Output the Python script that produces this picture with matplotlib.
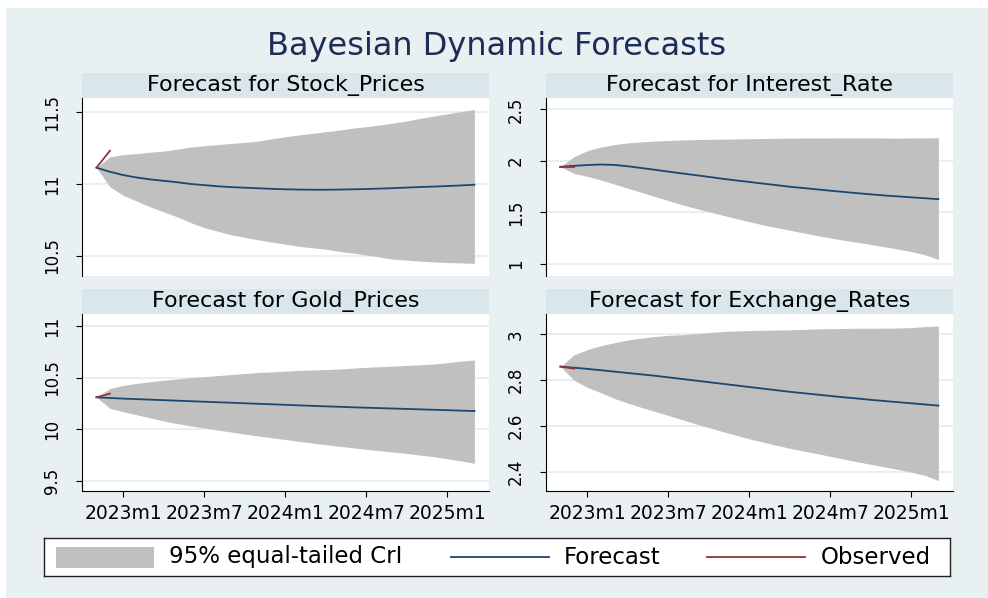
import numpy as np
import pandas as pd
import matplotlib
matplotlib.use('Agg')
from matplotlib import pyplot as plt
from matplotlib.patches import Rectangle
from matplotlib.lines import Line2D
from matplotlib.ticker import FuncFormatter

plt.rcParams['font.family'] = ['DejaVu Sans']

# monthly periods of the forecast horizon (2022m11 .. 2025m3)
periods = pd.period_range('2022-11', '2025-03', freq='M')
obs_periods = pd.period_range('2022-11', '2022-12', freq='M')
tick_labels = ['2023m1', '2023m7', '2024m1', '2024m7', '2025m1']

# Stock_Prices
stock_fc = [11.114, 11.085, 11.062, 11.045, 11.032, 11.022, 11.012, 11.000, 10.992, 10.984,
            10.978, 10.974, 10.970, 10.966, 10.963, 10.961, 10.960, 10.960, 10.961, 10.963,
            10.965, 10.968, 10.971, 10.975, 10.979, 10.982, 10.986, 10.990, 10.995]
stock_lo = [11.114, 10.980, 10.920, 10.880, 10.840, 10.805, 10.770, 10.730, 10.695, 10.670,
            10.645, 10.627, 10.610, 10.595, 10.580, 10.565, 10.555, 10.545, 10.530, 10.518,
            10.505, 10.490, 10.475, 10.468, 10.462, 10.456, 10.452, 10.449, 10.446]
stock_hi = [11.114, 11.190, 11.205, 11.212, 11.222, 11.230, 11.243, 11.258, 11.267, 11.275,
            11.283, 11.290, 11.300, 11.315, 11.330, 11.342, 11.353, 11.365, 11.376, 11.390,
            11.400, 11.412, 11.425, 11.440, 11.458, 11.474, 11.490, 11.505, 11.520]
stock_obs = [11.114, 11.232]

# Interest_Rate
rate_fc = [1.943, 1.952, 1.960, 1.965, 1.961, 1.948, 1.931, 1.914, 1.896, 1.879,
           1.862, 1.845, 1.827, 1.811, 1.796, 1.780, 1.765, 1.749, 1.737, 1.724,
           1.711, 1.699, 1.687, 1.676, 1.665, 1.656, 1.647, 1.638, 1.629]
rate_lo = [1.943, 1.878, 1.850, 1.815, 1.775, 1.735, 1.695, 1.655, 1.615, 1.575,
           1.540, 1.507, 1.474, 1.442, 1.410, 1.380, 1.354, 1.328, 1.302, 1.276,
           1.253, 1.230, 1.210, 1.190, 1.167, 1.145, 1.120, 1.090, 1.045]
rate_hi = [1.943, 2.040, 2.100, 2.135, 2.158, 2.175, 2.185, 2.192, 2.198, 2.203,
           2.207, 2.209, 2.211, 2.213, 2.215, 2.217, 2.219, 2.221, 2.222, 2.222,
           2.222, 2.223, 2.222, 2.223, 2.222, 2.221, 2.222, 2.223, 2.225]
rate_obs = [1.944, 1.944]

# Gold_Prices
gold_fc = [10.310, 10.303, 10.297, 10.292, 10.287, 10.282, 10.277, 10.272, 10.267, 10.262,
           10.257, 10.252, 10.247, 10.242, 10.237, 10.232, 10.227, 10.222, 10.218, 10.213,
           10.209, 10.205, 10.201, 10.197, 10.193, 10.189, 10.185, 10.181, 10.177]
gold_lo = [10.310, 10.203, 10.170, 10.140, 10.110, 10.080, 10.055, 10.032, 10.013, 9.993,
           9.973, 9.953, 9.935, 9.918, 9.901, 9.883, 9.867, 9.851, 9.836, 9.821,
           9.806, 9.793, 9.780, 9.766, 9.750, 9.735, 9.715, 9.694, 9.671]
gold_hi = [10.310, 10.395, 10.425, 10.445, 10.460, 10.475, 10.488, 10.500, 10.510, 10.520,
           10.530, 10.540, 10.550, 10.556, 10.563, 10.570, 10.574, 10.578, 10.584, 10.592,
           10.600, 10.606, 10.612, 10.618, 10.625, 10.632, 10.645, 10.660, 10.671]
gold_obs = [10.310, 10.345]

# Exchange_Rates
fx_fc = [2.859, 2.854, 2.849, 2.843, 2.837, 2.831, 2.825, 2.819, 2.812, 2.805,
         2.798, 2.791, 2.784, 2.777, 2.770, 2.763, 2.756, 2.749, 2.743, 2.737,
         2.731, 2.725, 2.720, 2.714, 2.709, 2.704, 2.699, 2.694, 2.689]
fx_lo = [2.859, 2.800, 2.768, 2.745, 2.720, 2.700, 2.681, 2.664, 2.646, 2.628,
         2.610, 2.593, 2.576, 2.560, 2.544, 2.530, 2.516, 2.503, 2.491, 2.480,
         2.468, 2.456, 2.444, 2.433, 2.422, 2.411, 2.399, 2.385, 2.362]
fx_hi = [2.859, 2.910, 2.933, 2.950, 2.963, 2.975, 2.983, 2.990, 2.995, 2.998,
         3.002, 3.007, 3.012, 3.014, 3.016, 3.017, 3.018, 3.019, 3.021, 3.023,
         3.024, 3.025, 3.026, 3.026, 3.026, 3.027, 3.029, 3.033, 3.036]
fx_obs = [2.859, 2.850]

CI_COLOR = '#c0c0c0'
FC_COLOR = '#1a476f'
OBS_COLOR = '#90353b'
BG_COLOR = '#e8f0f2'
STRIP_COLOR = '#d9e6eb'
GRID_COLOR = '#e3ecf0'

W, H = 988, 598


def stata_month(p):
    # months since 1960m1, like Stata's %tm
    return (p.year - 1960) * 12 + p.month - 1


def parse_tm(label):
    y, m = label.split('m')
    return (int(y) - 1960) * 12 + int(m) - 1


x = np.array([stata_month(p) for p in periods])
x_obs = np.array([stata_month(p) for p in obs_periods])
x_ticks = [parse_tm(s) for s in tick_labels]
x0 = parse_tm('2023m1')


def frac(px_left, px_top, px_w, px_h):
    return [px_left / W, 1 - (px_top + px_h) / H, px_w / W, px_h / H]


panels = [
    ('Stock_Prices', stock_fc, stock_lo, stock_hi, stock_obs,
     [10.5, 11, 11.5], (10.358, 11.600), (82, 73, 178), False),
    ('Interest_Rate', rate_fc, rate_lo, rate_hi, rate_obs,
     [1, 1.5, 2, 2.5], (0.884, 2.610), (546, 73, 178), False),
    ('Gold_Prices', gold_fc, gold_lo, gold_hi, gold_obs,
     [9.5, 10, 10.5, 11], (9.403, 11.116), (82, 289, 177), True),
    ('Exchange_Rates', fx_fc, fx_lo, fx_hi, fx_obs,
     [2.4, 2.6, 2.8, 3], (2.317, 3.088), (546, 289, 177), True),
]

fig = plt.figure(figsize=(W / 100, H / 100), dpi=100, facecolor='white')

# graph region background, kept behind everything else
bg = fig.add_axes(frac(6, 8, W - 6, H - 8), zorder=-10)
bg.set_facecolor(BG_COLOR)
bg.set_xticks([])
bg.set_yticks([])
for s in bg.spines.values():
    s.set_visible(False)

fig.text(497 / W, 1 - 46 / H, 'Bayesian Dynamic Forecasts', ha='center', va='center',
         fontsize=23, color='#1e2d55')

for name, fc, lo, hi, obs, yticks, ylim, (left, top, ph), show_x in panels:
    strip = fig.add_axes(frac(left, top, 407, 25))
    strip.set_facecolor(STRIP_COLOR)
    strip.set_xticks([])
    strip.set_yticks([])
    for s in strip.spines.values():
        s.set_visible(False)
    strip.text(0.5, 0.48, 'Forecast for ' + name, ha='center', va='center',
               fontsize=16, transform=strip.transAxes)

    ax = fig.add_axes(frac(left, top + 25, 407, ph))
    ax.set_facecolor('white')
    ax.fill_between(x, lo, hi, color=CI_COLOR, lw=0, zorder=2)
    ax.plot(x, fc, color=FC_COLOR, lw=1.3, zorder=3)
    ax.plot(x_obs, obs, color=OBS_COLOR, lw=1.3, zorder=4)

    ax.set_xlim(x0 - 3.07, x0 + 27.08)
    ax.set_ylim(*ylim)
    ax.set_yticks(yticks)
    ax.yaxis.set_major_formatter(FuncFormatter(lambda v, pos: '%g' % v))
    ax.tick_params(axis='y', labelsize=12, length=4, width=0.8, pad=11,
                   labelrotation=90)
    for lab in ax.get_yticklabels():
        lab.set_va('center')
    ax.grid(axis='y', color=GRID_COLOR, lw=1.2, zorder=1)
    ax.set_axisbelow(True)

    for side in ('top', 'right'):
        ax.spines[side].set_visible(False)
    ax.spines['left'].set_linewidth(0.8)
    if show_x:
        ax.set_xticks(x_ticks)
        ax.set_xticklabels(tick_labels)
        ax.tick_params(axis='x', labelsize=13.5, length=4.5, width=0.8, pad=5)
        ax.spines['bottom'].set_linewidth(0.8)
    else:
        ax.set_xticks([])
        ax.spines['bottom'].set_visible(False)

# legend box
leg = fig.add_axes(frac(44, 538, 906, 38))
leg.set_xlim(44, 950)
leg.set_ylim(576, 538)
leg.set_xticks([])
leg.set_yticks([])
leg.set_facecolor('white')
for s in leg.spines.values():
    s.set_linewidth(1.0)
    s.set_color('#202020')
leg.add_patch(Rectangle((55.7, 547.3), 98.6, 20.4, facecolor=CI_COLOR, edgecolor='none'))
leg.text(169, 557, '95% equal-tailed CrI', va='center', ha='left', fontsize=16.5)
leg.add_line(Line2D([451, 549], [557, 557], color=FC_COLOR, lw=1.3))
leg.text(564, 557, 'Forecast', va='center', ha='left', fontsize=16.5)
leg.add_line(Line2D([707, 805], [557, 557], color=OBS_COLOR, lw=1.3))
leg.text(821, 557, 'Observed', va='center', ha='left', fontsize=16.5)

plt.savefig('out.png', dpi=100, facecolor=fig.get_facecolor())
